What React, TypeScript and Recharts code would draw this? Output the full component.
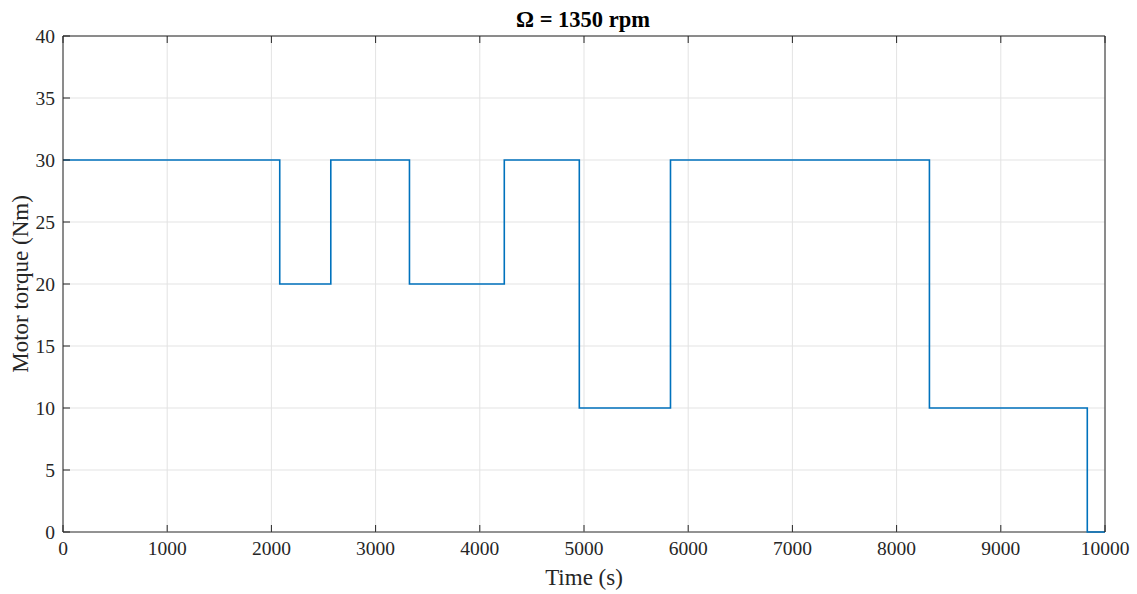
import React from "react";
import { LineChart, Line, XAxis, YAxis, CartesianGrid } from "recharts";

const timeSeconds = [0, 2080, 2570, 3325, 4235, 4955, 5830, 8315, 9830, 10000];
const torqueNm = [30, 20, 30, 20, 30, 10, 30, 10, 0, 0];
const xTicks = [0, 1000, 2000, 3000, 4000, 5000, 6000, 7000, 8000, 9000, 10000];
const yTicks = [0, 5, 10, 15, 20, 25, 30, 35, 40];

const data = timeSeconds.map((t, i) => ({ t, v: torqueNm[i] }));

const FONT = "'Liberation Serif', 'DejaVu Serif', serif";
const AX = "#262626";
const GRID = "#e3e3e3";
const tickStyle = { fill: AX, fontSize: 19.5, fontFamily: FONT };

const horizontalLine = (props: any) => {
  const bottom = props.y + props.height;
  const isBottom = Math.abs(props.y1 - bottom) < 0.6;
  return (
    <line
      key={props.key ?? `h-${props.index}`}
      x1={props.x1}
      y1={props.y1}
      x2={props.x2}
      y2={props.y2}
      stroke={isBottom ? AX : GRID}
      strokeWidth={1}
      fill="none"
    />
  );
};

export default function App() {
  return (
    <div style={{ position: "absolute", left: 0, top: 0, width: 1137, height: 594, background: "#fff" }}>
      <div
        style={{
          position: "absolute",
          left: 0,
          width: 1166,
          top: 6,
          textAlign: "center",
          fontFamily: FONT,
          fontWeight: "bold",
          fontSize: 22.5,
          color: "#000",
          lineHeight: "28px",
        }}
      >
        Ω = 1350 rpm
      </div>
      <LineChart
        width={1137}
        height={594}
        data={data}
        margin={{ top: 26, right: 22, bottom: 22, left: 23 }}
      >
        <CartesianGrid
          xAxisId="b"
          yAxisId="l"
          stroke={GRID}
          strokeWidth={1}
          horizontalValues={yTicks}
          verticalValues={xTicks}
          horizontal={horizontalLine}
        />
        <XAxis
          xAxisId="b"
          dataKey="t"
          type="number"
          domain={[0, 10000]}
          ticks={xTicks}
          interval={0}
          height={40}
          stroke={AX}
          axisLine={false}
          tickSize={-7}
          tickMargin={16}
          tick={tickStyle}
          label={{ value: "Time (s)", position: "insideBottom", offset: -13, fill: AX, fontSize: 23, fontFamily: FONT }}
          allowDataOverflow
        />
        <XAxis
          xAxisId="t"
          orientation="top"
          dataKey="t"
          type="number"
          domain={[0, 10000]}
          ticks={xTicks}
          interval={0}
          height={10}
          stroke={AX}
          tickSize={-7}
          tickFormatter={() => ""}
        />
        <YAxis
          yAxisId="l"
          type="number"
          domain={[0, 40]}
          ticks={yTicks}
          interval={0}
          width={40}
          stroke={AX}
          tickSize={-7}
          tickMargin={15}
          tick={tickStyle}
          label={{
            value: "Motor torque (Nm)",
            angle: -90,
            position: "insideLeft",
            offset: -3,
            fill: AX,
            fontSize: 23,
            fontFamily: FONT,
            style: { textAnchor: "middle" },
          }}
        />
        <YAxis
          yAxisId="r"
          orientation="right"
          type="number"
          domain={[0, 40]}
          ticks={yTicks}
          interval={0}
          width={10}
          stroke={AX}
          tickSize={-7}
          tickFormatter={() => ""}
        />
        <Line
          xAxisId="b"
          yAxisId="l"
          type="stepAfter"
          dataKey="v"
          stroke="#0072BD"
          strokeWidth={1.6}
          dot={false}
          activeDot={false}
          isAnimationActive={false}
        />
      </LineChart>
    </div>
  );
}
